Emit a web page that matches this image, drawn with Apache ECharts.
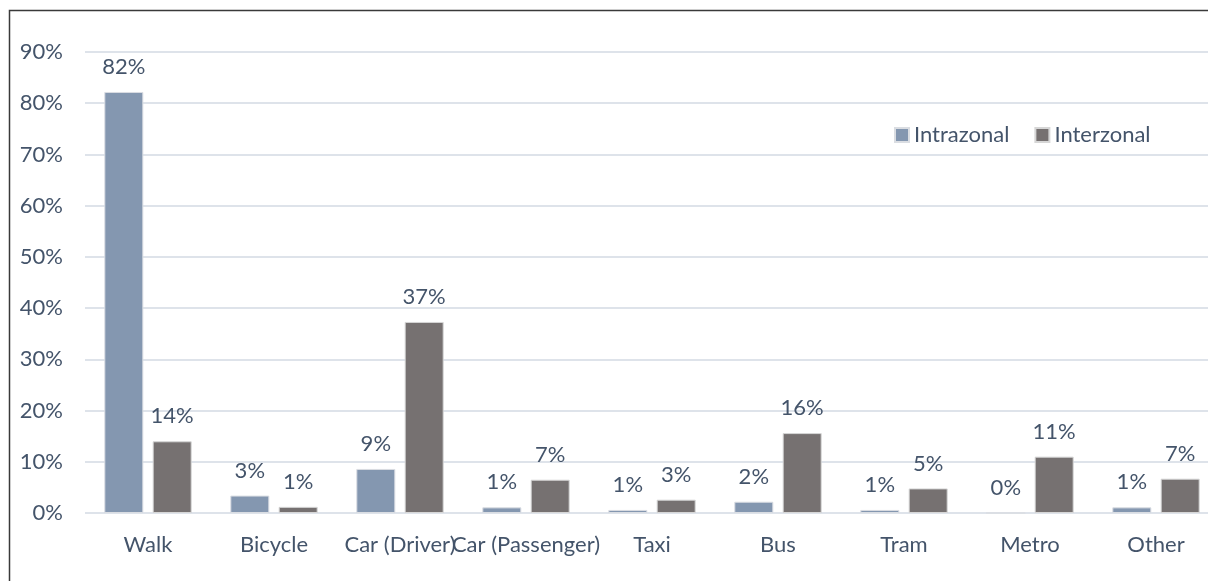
<!DOCTYPE html>
<html>
<head>
<meta charset="utf-8">
<script src="https://cdn.jsdelivr.net/npm/echarts@6/dist/echarts.min.js"></script>
<style>
  html, body { margin: 0; padding: 0; background: #fff; }
  #chart { width: 1208px; height: 581px; }
</style>
</head>
<body>
<div id="chart"></div>
<script>
// Trip mode shares, intrazonal vs interzonal trips (percent)
const categories = ['Walk', 'Bicycle', 'Car (Driver)', 'Car (Passenger)', 'Taxi', 'Bus', 'Tram', 'Metro', 'Other'];
const intrazonal = [82.2, 3.4, 8.6, 1.1, 0.6, 2.2, 0.6, 0, 1.1];
const interzonal = [14.0, 1.2, 37.3, 6.5, 2.6, 15.6, 4.8, 11.0, 6.7];
const seriesNames = ['Intrazonal', 'Interzonal'];

const FONT = 'Lato';
const TEXT = '#44546A';

const chart = echarts.init(document.getElementById('chart'), null, { renderer: 'canvas' });

const labelStyle = {
  show: true,
  position: 'top',
  distance: 14,
  color: TEXT,
  fontFamily: FONT,
  fontSize: 22,
  formatter: p => Math.round(p.value) + '%'
};

chart.setOption({
  animation: false,
  backgroundColor: '#fff',
  graphic: [{
    type: 'rect',
    silent: true,
    shape: { x: 9.5, y: 10.5, width: 1400, height: 800 },
    style: { fill: 'none', stroke: '#3a3a3a', lineWidth: 1.5 }
  }],
  legend: {
    data: seriesNames,
    left: 894,
    top: 124,
    padding: 0,
    itemWidth: 14,
    itemHeight: 14,
    itemGap: 25,
    icon: 'rect',
    textStyle: { color: TEXT, fontFamily: FONT, fontSize: 22, padding: [0, 0, 0, 0] }
  },
  grid: { left: 85, top: 52, width: 1134, bottom: 68, outerBoundsMode: 'none', containLabel: false },
  xAxis: {
    type: 'category',
    data: categories,
    axisLine: { show: false },
    axisTick: { show: false },
    axisLabel: {
      interval: 0,
      margin: 21,
      color: TEXT,
      fontFamily: FONT,
      fontSize: 22
    }
  },
  yAxis: {
    type: 'value',
    min: 0,
    max: 90,
    interval: 10,
    axisLine: { show: false },
    axisTick: { show: false },
    axisLabel: {
      margin: 22,
      color: TEXT,
      fontFamily: FONT,
      fontSize: 22,
      formatter: v => v + '%'
    },
    splitLine: { lineStyle: { color: '#DEE3EA', width: 2 } }
  },
  series: [
    {
      name: seriesNames[0],
      type: 'bar',
      data: intrazonal,
      barWidth: 39,
      barGap: '24%',
      itemStyle: { color: '#8497B0', borderColor: '#DADDE2', borderWidth: 1 },
      label: labelStyle
    },
    {
      name: seriesNames[1],
      type: 'bar',
      data: interzonal,
      barWidth: 39,
      itemStyle: { color: '#767171', borderColor: '#D6D6D6', borderWidth: 1 },
      label: labelStyle
    }
  ]
});
</script>
</body>
</html>
